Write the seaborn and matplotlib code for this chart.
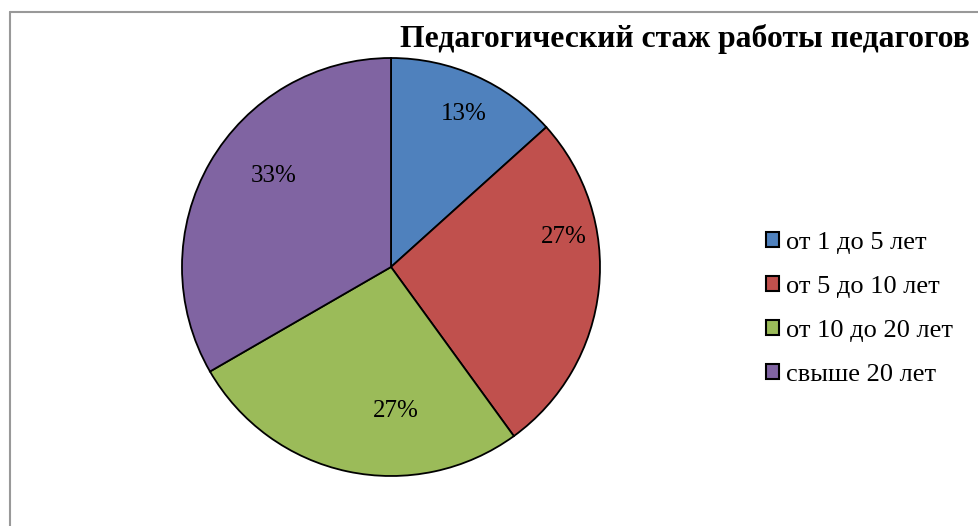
import matplotlib
matplotlib.use("Agg")
import matplotlib.pyplot as plt
import seaborn as sns
from matplotlib.patches import Patch
import numpy as np

sns.set_theme(style="white")
plt.rcParams['font.family'] = ['Liberation Serif', 'DejaVu Serif']

categories = ["от 1 до 5 лет", "от 5 до 10 лет", "от 10 до 20 лет", "свыше 20 лет"]
values = [2, 4, 4, 5]
colors = ["#4F81BD", "#C0504D", "#9BBB59", "#8064A2"]
title = "Педагогический стаж работы педагогов"

W, H = 979, 526
fig = plt.figure(figsize=(W / 100, H / 100), dpi=100)
fig.patch.set_facecolor("white")

# border (right/bottom cut off)
fig.add_artist(plt.Line2D([10 / W, 1], [1 - 12 / H, 1 - 12 / H], color="#999999", lw=1.5,
                          transform=fig.transFigure))
fig.add_artist(plt.Line2D([10 / W, 10 / W], [0, 1 - 12 / H], color="#999999", lw=1.5,
                          transform=fig.transFigure))

cx, cy, r = 391, H - 267, 209
ax = fig.add_axes([(cx - r) / W, (cy - r) / H, 2 * r / W, 2 * r / H])
wedges, texts, autotexts = ax.pie(
    values, colors=colors, startangle=90, counterclock=False,
    autopct=lambda p: f"{p:.0f}%", pctdistance=0.8,
    wedgeprops=dict(edgecolor="black", linewidth=1.3),
    textprops=dict(fontsize=18, color="black"))
ax.set_xlim(-1, 1)
ax.set_ylim(-1, 1)
ax.set_aspect("equal")
ax.axis("off")

# label placements (angle deg, radius fraction) similar to reference best fit
placements = [(64.5, 0.81), (10, 0.84), (-88, 0.69), (142, 0.71)]
for t, (ang, rr) in zip(autotexts, placements):
    a = np.deg2rad(ang)
    t.set_position((rr * np.cos(a), rr * np.sin(a)))
    t.set_ha("center"); t.set_va("center")

fig.text(970 / W, 1 - 39 / H, title, ha="right", va="center", fontsize=22.8,
         fontweight="bold", color="black")

handles = [Patch(facecolor=c, edgecolor="black", linewidth=1.5) for c in colors]
leg = fig.legend(handles, categories, loc="upper left",
                 bbox_to_anchor=(766 / W, 1 - 232 / H), frameon=False,
                 fontsize=19, handlelength=0.5, handleheight=0.5,
                 handletextpad=0.25, labelspacing=0.83, borderpad=0, borderaxespad=0)
for t in leg.get_texts():
    t.set_color("black")

fig.savefig("out.png", dpi=100, facecolor="white")
